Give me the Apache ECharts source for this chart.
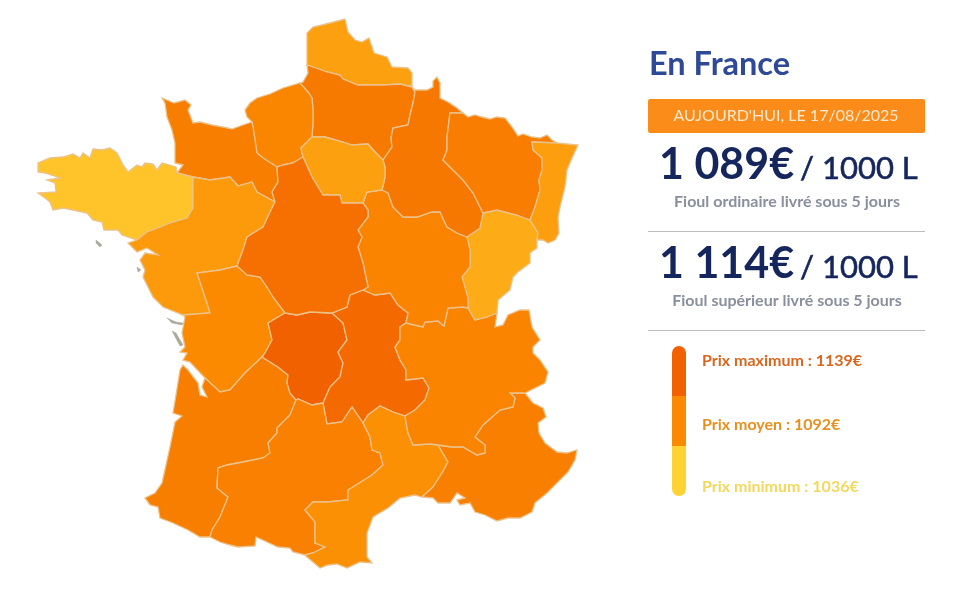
<!DOCTYPE html>
<html lang="fr">
<head>
<meta charset="utf-8">
<title>Prix du fioul en France</title>
<script src="https://cdn.jsdelivr.net/npm/echarts@6/dist/echarts.min.js"></script>
<style>
  html, body { margin: 0; padding: 0; background: #fff; }
  #chart { width: 960px; height: 595px; }
</style>
</head>
<body>
<div id="chart"></div>
<script>
const regionNames = ['Nord-Pas-de-Calais', 'Picardie', 'Haute-Normandie', 'Basse-Normandie', 'Bretagne', 'Pays de la Loire',
    'Poitou-Charentes', 'Aquitaine', 'Limousin', 'Auvergne', 'Midi-Pyrénées', 'Languedoc-Roussillon', 'PACA', 'Rhône-Alpes',
    'Franche-Comté', 'Bourgogne', 'Champagne-Ardenne', 'Lorraine', 'Alsace', 'Île-de-France', 'Centre'];
const regionPrices = [1072, 1108, 1092, 1102, 1046, 1076, 1088, 1102, 1139, 1128, 1100, 1083, 1101, 1095, 1064, 1095, 1110, 1104, 1073, 1072, 1120];

const priceRange = [1036, 1139];
const priceColors = ['#FFD233', '#FB8A00', '#F26100'];

const panelTitle = 'En France';
const dateLabel = "AUJOURD'HUI, LE 17/08/2025";
const offerPrices = ['1 089€', '1 114€'];
const offerUnit = '/ 1000 L';
const offerLabels = ['Fioul ordinaire livré sous 5 jours', 'Fioul supérieur livré sous 5 jours'];
const legendLabels = ['Prix maximum : 1139€', 'Prix moyen : 1092€', 'Prix minimum : 1036€'];
const legendBarColors = ['#F26100', '#FB8A00', '#FFD233'];
const legendTextColors = ['#D9661C', '#E6911F', '#F3D85E'];

// tracés des frontières (x,y de la carte), partagés entre régions voisines
const arcs = {
    nordCoast: '307,65 307,33 313,27 330,23 345,19 348,32 355,40 362,42 369,38 374,53 387,57 392,67 408,68 412,73 412,87',
    nordPic: '412,87 400,84 383,85 372,85 358,85 343,79 340,75 327,72 313,67 307,65',
    picCoast: '307,65 308,73 303,82 300,83',
    picHn: '300,83 308,92 312,98 313,110 313,123 312,137',
    picIdf: '312,137 325,137 343,142 352,145 368,144 375,152 383,160',
    picChamp: '412,87 415,92 413,103 410,115 408,125 393,128 391,138 392,147 383,160',
    hnCoast: '252,122 247,117 245,110 250,103 257,98 270,94 283,88 300,83',
    idfHn: '312,137 301,148 303,157',
    hnCentre: '303,157 293,163 283,165 277,167',
    hnBn: '277,167 263,158 257,153 255,140 253,127 252,122',
    bnCoast: '252,122 243,125 232,129 223,127 212,125 200,122 193,123 188,110 191,105 185,100 174,103 162,98 165,103 167,117 172,130 175,143 175,163 183,165 177,173',
    bnBret: '177,173 193,177',
    bnPdl: '193,177 210,180 230,177 238,186 252,182 257,192 275,202',
    bnCentre: '275,202 272,192 278,182 277,167',
    bretCoast: '177,173 176,167 162,163 157,170 153,164 145,163 142,167 137,165 128,172 123,165 117,153 110,148 102,150 93,149 90,158 83,153 80,158 73,154 63,157 50,158 38,163 38,172 45,173 60,178 47,180 55,183 56,192 38,193 45,198 50,202 53,210 63,208 73,210 87,213 93,220 102,222 104,230 118,230 122,235 137,240',
    bretPdl: '137,240 147,232 158,228 170,223 187,218 193,208 193,177',
    pdlCoast: '137,240 128,243 137,252 147,248 158,255 145,253 140,260 145,270 143,277 148,287 153,297 163,307 183,315',
    pdlPoitou: '183,315 210,313 207,303 205,297 197,273 220,270 237,266',
    pdlCentre: '275,202 272,208 263,227 247,237 243,250 237,266',
    poitouCentre: '237,266 247,275 260,277 267,287 273,297 285,313',
    poitouLim: '285,313 268,323 272,340 265,353 262,357',
    poitouAq: '262,357 245,373 230,390 220,392 205,378',
    poitouCoast: '205,378 190,362 183,360 187,353 180,352 185,347 182,333 185,317 183,315',
    aqCoast: '205,378 202,387 207,397 200,395 198,383 188,370 183,365 180,370 176,395 173,413 182,416 175,422 170,447 162,483 155,493 145,498 150,505 158,507 160,518 173,523 188,530 200,537 210,537',
    aqMidi: '210,537 212,530 220,517 228,497 217,488 218,468 227,465 243,462 263,458 270,453 268,443 277,433 277,428 290,415 296,400',
    aqLim: '296,400 290,393 287,383 288,375 278,367 262,357',
    centreLim: '285,313 297,315 310,312 332,313',
    limAuv: '332,313 343,323 347,340 338,352 343,363 340,377 330,387 323,403',
    limMidi: '323,403 312,405 298,399 296,400',
    centreAuv: '332,313 347,307 350,295 363,290',
    bourgAuv: '363,290 375,295 390,293 398,305 408,313 406,323',
    auvRa: '406,323 400,327 400,340 395,347 400,360 406,370 406,380 423,378 429,388 425,400 415,410 405,416',
    auvLang: '405,416 393,412 380,406 368,415 363,423',
    auvMidi: '363,423 352,407 342,422 327,424 323,403',
    midiLang: '363,423 370,437 372,450 380,453 383,465 372,475 348,490 348,500 328,502 313,502 305,510 315,522 315,543 325,547 313,553 305,555',
    midiSouth: '305,555 293,552 290,548 278,547 267,542 256,537 255,546 238,547 230,545 220,542 210,537',
    langRa: '405,416 408,433 413,445 430,444 438,445',
    langPaca: '438,445 448,462 442,473 433,487 422,497',
    langCoast: '422,497 415,495 400,498 388,508 373,517 367,533 367,557 372,563 360,562 347,568 337,564 328,565 320,568 307,557 305,555',
    raPaca: '438,445 452,447 463,447 477,455 485,453 485,445 475,437 483,425 500,410 513,407 515,398 510,393 525,393',
    pacaCoast: '525,393 533,403 543,408 546,417 538,423 539,433 545,443 557,452 567,453 577,450 575,460 568,472 563,477 557,483 547,493 535,503 532,512 520,518 508,518 497,521 485,515 475,512 470,503 460,505 457,500 465,498 457,493 450,503 438,503 433,498 422,497',
    bourgRa: '406,323 423,327 425,322 438,321 444,326 448,308 463,307 468,308',
    fcRa: '468,308 475,320 487,317 497,313',
    raEast: '497,313 495,327 503,325 508,315 520,310 529,310 532,327 540,340 533,347 533,353 540,360 548,372 545,383 525,393',
    fcEast: '497,313 498,300 510,290 513,277 518,272 530,263 530,253 537,248 537,240',
    alsFc: '537,240 538,233 530,220',
    lorFc: '530,220 517,215 497,210 483,213',
    champFc: '483,213 480,228 467,237',
    bourgFc: '467,237 470,250 470,267 462,277 468,298 468,308',
    bourgChamp: '467,237 457,233 447,227 440,212 432,212 417,217 403,217 393,207 388,193 382,190',
    idfBourg: '382,190 367,192 363,203',
    centreBourg: '363,203 368,210 368,217 358,230 362,237 358,247 363,263 368,287 363,290',
    idfChamp: '383,160 385,167 385,177 382,190',
    champCoast: '412,87 415,90 427,90 433,87 433,81 437,77 440,83 440,98 448,102 457,108 463,113',
    champLor: '463,113 450,113 447,137 447,150 443,160 463,180 473,193 483,213',
    lorCoast: '463,113 468,117 475,115 482,117 490,119 497,117 505,118 512,127 518,136 523,134 532,137 540,138 547,135 552,140 557,143',
    alsLor: '557,143 532,142 533,150 542,158 542,170 539,180 540,190 535,207 530,220',
    alsCoast: '557,143 578,145 572,158 567,170 565,187 560,207 558,218 559,233 555,240 548,243 543,240 537,240',
    idfCentre: '363,203 342,203 340,195 323,195 312,177 303,157'
};

// contour de chaque région ; un "-" devant un nom parcourt le tracé à l'envers
const regionRings = {
    'Nord-Pas-de-Calais': ['nordCoast', 'nordPic'],
    'Picardie': ['nordPic', 'picCoast', 'picHn', 'picIdf', '-picChamp'],
    'Haute-Normandie': ['hnCoast', 'picHn', 'idfHn', 'hnCentre', 'hnBn'],
    'Basse-Normandie': ['bnCoast', 'bnBret', 'bnPdl', 'bnCentre', 'hnBn'],
    'Bretagne': ['bretCoast', 'bretPdl', '-bnBret'],
    'Pays de la Loire': ['bnPdl', 'pdlCentre', '-pdlPoitou', '-pdlCoast', 'bretPdl'],
    'Poitou-Charentes': ['pdlPoitou', 'poitouCentre', 'poitouLim', 'poitouAq', 'poitouCoast'],
    'Aquitaine': ['aqCoast', 'aqMidi', 'aqLim', 'poitouAq'],
    'Limousin': ['centreLim', 'limAuv', 'limMidi', 'aqLim', '-poitouLim'],
    'Auvergne': ['centreAuv', 'bourgAuv', 'auvRa', 'auvLang', 'auvMidi', '-limAuv'],
    'Midi-Pyrénées': ['midiLang', 'midiSouth', 'aqMidi', '-limMidi', '-auvMidi'],
    'Languedoc-Roussillon': ['-auvLang', 'langRa', 'langPaca', 'langCoast', '-midiLang'],
    'PACA': ['raPaca', 'pacaCoast', '-langPaca'],
    'Rhône-Alpes': ['bourgRa', 'fcRa', 'raEast', '-raPaca', '-langRa', '-auvRa'],
    'Franche-Comté': ['fcRa', 'fcEast', 'alsFc', 'lorFc', 'champFc', 'bourgFc'],
    'Bourgogne': ['bourgChamp', 'idfBourg', 'centreBourg', 'bourgAuv', 'bourgRa', '-bourgFc'],
    'Champagne-Ardenne': ['champCoast', 'champLor', 'champFc', 'bourgChamp', '-idfChamp', '-picChamp'],
    'Lorraine': ['lorCoast', 'alsLor', 'lorFc', '-champLor'],
    'Alsace': ['alsCoast', 'alsFc', '-alsLor'],
    'Île-de-France': ['picIdf', 'idfChamp', 'idfBourg', 'idfCentre', '-idfHn'],
    'Centre': ['hnCentre', '-bnCentre', 'pdlCentre', 'poitouCentre', 'centreLim', 'centreAuv', '-centreBourg', 'idfCentre']
};

// petites îles de la côte atlantique, sans prix
const islands = [
    '167,318 176,322 183,323 182,325 172,323',
    '172,331 176,333 183,345 180,346',
    '96,240 102,245 100,247 96,243',
    '137,267 141,270 138,272'
];

function parseArc(text) {
    return text.split(' ').map(function(p) {
        const xy = p.split(',');
        // y vers le haut pour le GeoJSON
        return [Number(xy[0]), 595 - Number(xy[1])];
    });
}

function buildRing(parts) {
    let ring = [];
    parts.forEach(function(name) {
        const reversed = name[0] === '-';
        const pts = parseArc(arcs[reversed ? name.slice(1) : name]);
        if (reversed) pts.reverse();
        ring = ring.concat(pts);
    });
    ring.push(ring[0]);
    return ring;
}

const features = regionNames.map(function(name) {
    return {
        type: 'Feature',
        properties: { name: name },
        geometry: { type: 'Polygon', coordinates: [buildRing(regionRings[name])] }
    };
});
features.push({
    type: 'Feature',
    properties: { name: 'Îles' },
    geometry: {
        type: 'MultiPolygon',
        coordinates: islands.map(function(t) {
            const r = parseArc(t);
            r.push(r[0]);
            return [r];
        })
    }
});
echarts.registerMap('franceRegions', { type: 'FeatureCollection', features: features });

const FONT = 'Lato, "Open Sans", sans-serif';

function text(x, y, str, size, weight, color, align, stroke) {
    return {
        type: 'text',
        silent: true,
        x: x,
        y: y,
        style: {
            text: str,
            fontFamily: FONT,
            fontSize: size,
            fontWeight: weight,
            fill: color,
            stroke: stroke ? color : null,
            lineWidth: stroke || 0,
            align: align || 'left',
            verticalAlign: 'middle'
        }
    };
}

function rule(y) {
    return {
        type: 'line',
        silent: true,
        shape: { x1: 648, y1: y, x2: 925, y2: y },
        style: { stroke: '#bdbdbd', lineWidth: 1 }
    };
}

const panel = [
    text(649, 65, panelTitle, 32.5, 700, '#2E4A96'),
    {
        type: 'rect',
        silent: true,
        shape: { x: 648, y: 99, width: 277, height: 34, r: 2 },
        style: { fill: '#FB8C1A' }
    },
    text(786, 116, dateLabel, 16, 400, '#FCE9CF', 'center'),
    text(659, 165, offerPrices[0], 43, 700, '#14265C'),
    text(800, 169, offerUnit, 31, 400, '#14265C', 'left', 0.6),
    text(787, 202, offerLabels[0], 16, 700, '#8A8F9E', 'center'),
    rule(231.5),
    text(659, 264, offerPrices[1], 43, 700, '#14265C'),
    text(800, 268, offerUnit, 31, 400, '#14265C', 'left', 0.6),
    text(787, 301, offerLabels[1], 16, 700, '#8A8F9E', 'center'),
    rule(330.5),
    {
        type: 'rect',
        silent: true,
        shape: { x: 672, y: 346, width: 14, height: 50, r: [7, 7, 0, 0] },
        style: { fill: legendBarColors[0] }
    },
    {
        type: 'rect',
        silent: true,
        shape: { x: 672, y: 396, width: 14, height: 50 },
        style: { fill: legendBarColors[1] }
    },
    {
        type: 'rect',
        silent: true,
        shape: { x: 672, y: 446, width: 14, height: 50, r: [0, 0, 7, 7] },
        style: { fill: legendBarColors[2] }
    },
    text(702, 361, legendLabels[0], 16, 700, legendTextColors[0]),
    text(702, 425, legendLabels[1], 16, 700, legendTextColors[1]),
    text(702, 487, legendLabels[2], 16, 700, legendTextColors[2])
];

const mapData = regionNames.map(function(name, i) {
    return { name: name, value: regionPrices[i] };
});
// les îles gardent leur gris, sans liseré
mapData.push({ name: 'Îles', itemStyle: { areaColor: '#A9AA9C', borderColor: '#A9AA9C', borderWidth: 0.5 } });

const chart = echarts.init(document.getElementById('chart'), null, { renderer: 'canvas' });

chart.setOption({
    backgroundColor: '#ffffff',
    animation: false,
    tooltip: { show: false },
    visualMap: {
        show: false,
        type: 'continuous',
        min: priceRange[0],
        max: priceRange[1],
        inRange: { color: priceColors }
    },
    series: [{
        type: 'map',
        map: 'franceRegions',
        aspectScale: 1,
        roam: false,
        silent: true,
        boundingCoords: [[0, 595], [960, 0]],
        layoutCenter: ['50%', '50%'],
        layoutSize: 960,
        label: { show: false },
        itemStyle: { areaColor: '#A9AA9C', borderColor: '#EBC28C', borderWidth: 1.3 },
        data: mapData
    }],
    graphic: panel
});

window.addEventListener('resize', function() {
    chart.resize();
});
</script>
</body>
</html>
